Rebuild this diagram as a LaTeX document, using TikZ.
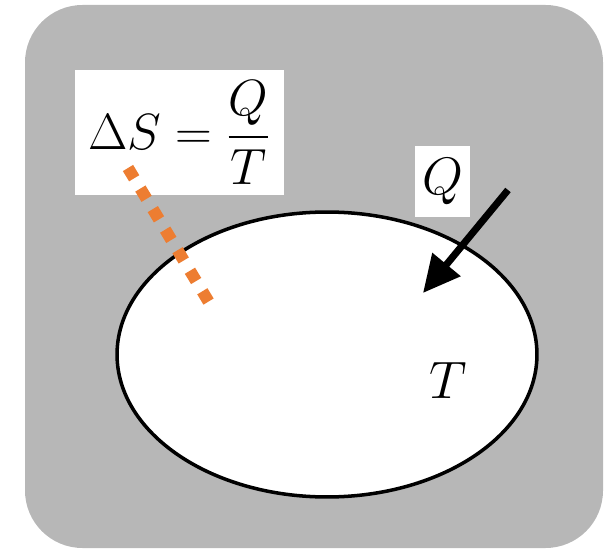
\RequirePackage{fix-cm}
\documentclass[tikz,border=0pt]{standalone}
\usepackage{amsmath}
\usepackage{tikz}
\usetikzlibrary{shapes.geometric, arrows.meta, positioning}
\definecolor{envgray}{RGB}{183,183,183}
\definecolor{entorange}{RGB}{237,125,49}
\tikzset{
  %% ---- boxes ----
  envbox/.style  = {rectangle, rounded corners=1.15cm, fill=envgray, draw=none},
  sysbox/.style  = {ellipse, draw=black, line width=2pt, fill=white,
                    minimum width=8.4cm, minimum height=5.7cm, inner sep=0pt},
  lblbox/.style  = {rectangle, fill=white, inner sep=0pt,
                    font=\fontsize{30}{36}\selectfont},
  %% ---- arrows ----
  heatarrow/.style = {-{Triangle[length=0.74cm, width=0.7cm]},
                      line width=4pt, color=black},
  entline/.style   = {entorange, line width=6.8pt,
                      dash pattern=on 0.24cm off 0.24cm},
}
\begin{document}
\begin{tikzpicture}[x=0.02cm, y=-0.02cm]
  \useasboundingbox (0,0) rectangle (608,550);

  \fill[envgray, rounded corners=1.15cm] (25,5) rectangle (603,548);

  \node[sysbox] (sys) at (327,354.5) {};
  \node[lblbox] (tmp) at (448,380) {$T$};

  %% Q box and arrow
  \node[lblbox, minimum width=1.1cm, minimum height=1.42cm] (q) at (442.5,181.5) {$Q$};
  \coordinate (qtail) at (508,190);
  \coordinate (qtip) at (423,293);
  \draw[heatarrow] (qtail) -- (qtip);

  %% entropy label
  \node[lblbox, font=\fontsize{29}{34}\selectfont,
        minimum width=4.18cm, minimum height=2.5cm] (dS) at (179.5,132.5)
    {$\Delta S = \dfrac{Q}{T}$};
  \coordinate (dsa) at (128,168);
  \coordinate (dsb) at (210,304);
  \draw[entline] (dsa) -- (dsb);

\end{tikzpicture}
\end{document}
